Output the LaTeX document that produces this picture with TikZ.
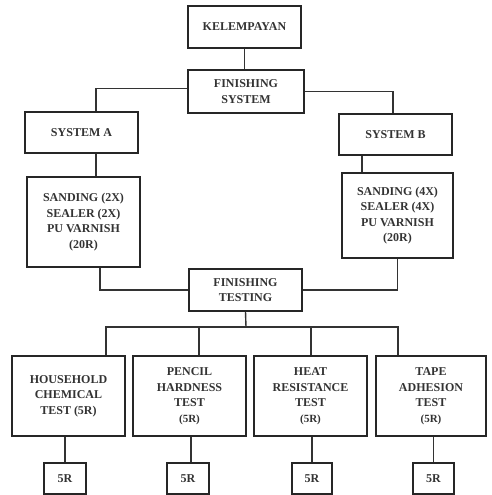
\documentclass[tikz,border=0pt]{standalone}
\usepackage{fontspec}
\setmainfont{Liberation Serif}
\newcommand{\smr}[1]{{\fontsize{11}{15.5}\selectfont #1}}
\begin{document}
\begin{tikzpicture}[x=1pt,y=-1pt,
  box/.style={draw=black!85, line width=1.6pt, rectangle, align=center, inner sep=1pt,
    font=\fontsize{12}{15.5}\selectfont\bfseries, text=black!80},
  conn/.style={draw=black!80, line width=1.4pt}]
\useasboundingbox (0,0) rectangle (491,495);
% top
\node[box, minimum width=113, minimum height=42] (kel) at (244.5,27) {KELEMPAYAN};
\node[box, minimum width=116, minimum height=43] (fs) at (246,91.5) {FINISHING\\SYSTEM};
\node[box, minimum width=113, minimum height=41] (sa) at (81.5,132.5) {SYSTEM A};
\node[box, minimum width=113, minimum height=41] (sb) at (395.5,134.5) {SYSTEM B};
\node[box, minimum width=113, minimum height=90] (ba) at (83.5,222) {SANDING (2X)\\SEALER (2X)\\PU VARNISH\\(20R)};
\node[box, minimum width=111, minimum height=85] (bb) at (397.5,215.5) {SANDING (4X)\\SEALER (4X)\\PU VARNISH\\(20R)};
\node[box, minimum width=113, minimum height=42] (ft) at (245.5,290) {FINISHING\\TESTING};
% tests
\node[box, minimum width=113, minimum height=80] (t1) at (68.5,396) {HOUSEHOLD\\CHEMICAL\\TEST (5R)};
\node[box, minimum width=113, minimum height=80] (t2) at (189.5,396) {PENCIL\\HARDNESS\\TEST\\\smr{(5R)}};
\node[box, minimum width=113, minimum height=80] (t3) at (310.5,396) {HEAT\\RESISTANCE\\TEST\\\smr{(5R)}};
\node[box, minimum width=110, minimum height=80] (t4) at (431,396) {TAPE\\ADHESION\\TEST\\\smr{(5R)}};
% 5R
\node[box, line width=1.2pt, minimum width=42, minimum height=31] (r1) at (65,478.5) {5R};
\node[box, line width=1.2pt, minimum width=42, minimum height=31] (r2) at (188,478.5) {5R};
\node[box, line width=1.2pt, minimum width=40, minimum height=31] (r3) at (312,478.5) {5R};
\node[box, line width=1.2pt, minimum width=41, minimum height=31] (r4) at (433.5,478.5) {5R};
\coordinate (bus) at (246,327);
% connectors
\draw[conn] (kel.south) -- (kel.south |- fs.north);
\draw[conn] ([yshift=3pt]fs.west) -| ([xshift=14.5]sa.north);
\draw[conn] (fs.east) -| ([xshift=-2.5]sb.north);
\draw[conn] ([xshift=14.5]sa.south) -- ([xshift=14.5]sa.south |- ba.north);
\draw[conn] ([xshift=-33.5]sb.south) -- ([xshift=-33.5]sb.south |- bb.north);
\draw[conn] ([xshift=16.5]ba.south) |- (ft.west);
\draw[conn] (bb.south) |- (ft.east);
\draw[conn] (ft.south) -- (bus);
\draw[conn] ([xshift=37.5]t1.north) |- (bus) -| ([xshift=-33]t4.north);
\draw[conn] ([xshift=9.5]t2.north) -- ([xshift=9.5]t2.north |- bus);
\draw[conn] ([xshift=0.5]t3.north) -- ([xshift=0.5]t3.north |- bus);
\draw[conn] (r1.north) -- (r1.north |- t1.south);
\draw[conn] ([xshift=3]r2.north) -- ([xshift=3]r2.north |- t2.south);
\draw[conn] (r3.north) -- (r3.north |- t3.south);
\draw[conn] (r4.north) -- (r4.north |- t4.south);
\end{tikzpicture}
\end{document}
